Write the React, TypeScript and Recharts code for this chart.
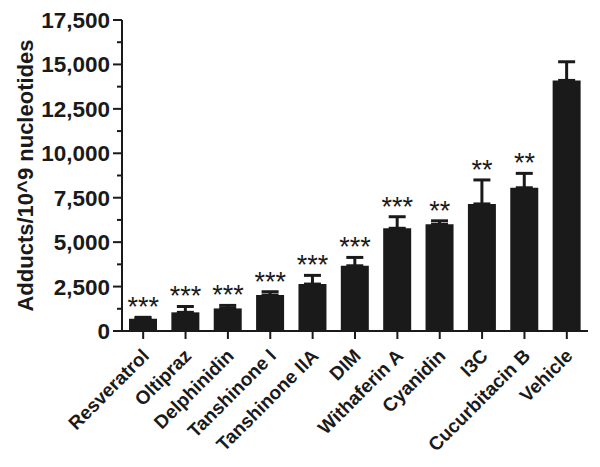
import {
  ComposedChart,
  Bar,
  Line,
  XAxis,
  YAxis,
  ErrorBar,
  LabelList,
} from 'recharts'

const compounds = [
  'Resveratrol',
  'Oltipraz',
  'Delphinidin',
  'Tanshinone I',
  'Tanshinone IIA',
  'DIM',
  'Withaferin A',
  'Cyanidin',
  'I3C',
  'Cucurbitacin B',
  'Vehicle',
]
const adducts = [690, 1050, 1270, 2020, 2640, 3670, 5780, 6000, 7150, 8060, 14100]
const sem = [80, 330, 170, 190, 490, 470, 650, 200, 1350, 810, 1050]
const significance = ['***', '***', '***', '***', '***', '***', '***', '**', '**', '**', '']

const majorTicks = [0, 2500, 5000, 7500, 10000, 12500, 15000, 17500]
const minorTicks = [1250, 3750, 6250, 8750, 11250, 13750, 16250]

const FONT = '"Liberation Sans", Arial, Helvetica, sans-serif'
const INK = '#1a1a1a'

const data = compounds.map((name, i) => ({
  name,
  value: adducts[i],
  err: [0, sem[i]],
  top: adducts[i] + sem[i],
  star: significance[i],
}))

const fmt = (v: number) => v.toLocaleString('en-US')

function YTick(props: any) {
  const { x, y, payload } = props
  const major = majorTicks.includes(payload.value)
  return (
    <g>
      <line x1={x - (major ? 9 : 5)} x2={x} y1={y} y2={y} stroke={INK} strokeWidth={2} />
      {major && (
        <text
          x={x - 12}
          y={y + 8}
          textAnchor="end"
          fontSize={22.5}
          fontWeight="bold"
          fontFamily={FONT}
          fill={INK}
        >
          {fmt(payload.value)}
        </text>
      )}
    </g>
  )
}

function XTick(props: any) {
  const { x, y, payload } = props
  const tx = x + 7
  const ty = y + 16
  return (
    <text
      x={tx}
      y={ty}
      textAnchor="end"
      fontSize={19}
      fontWeight="bold"
      fontFamily={FONT}
      fill={INK}
      transform={`rotate(-45, ${tx}, ${ty})`}
    >
      {payload.value}
    </text>
  )
}

export default function App() {
  return (
    <div style={{ position: 'absolute', left: 0, top: 0, background: '#fff' }}>
      <ComposedChart
        width={600}
        height={467}
        data={data}
        margin={{ top: 20, right: 12, bottom: 0, left: 0 }}
      >
        <XAxis
          dataKey="name"
          interval={0}
          height={136}
          axisLine={{ stroke: INK, strokeWidth: 2 }}
          tickLine={{ stroke: INK, strokeWidth: 2 }}
          tickSize={8}
          tick={<XTick />}
        />
        <YAxis
          domain={[0, 17500]}
          ticks={[...majorTicks, ...minorTicks].sort((a, b) => a - b)}
          interval={0}
          width={122}
          axisLine={{ stroke: INK, strokeWidth: 2 }}
          tickLine={false}
          tickSize={0}
          tickMargin={0}
          tick={<YTick />}
          label={{
            value: 'Adducts/10^9 nucleotides',
            angle: -90,
            position: 'insideLeft',
            offset: 25,
            fontSize: 22,
            fontWeight: 'bold',
            fontFamily: FONT,
            fill: INK,
            style: { textAnchor: 'middle' },
          }}
        />
        <Bar dataKey="value" fill={INK} barSize={28} isAnimationActive={false}>
          <ErrorBar dataKey="err" direction="y" width={8.5} strokeWidth={3} stroke={INK} />
        </Bar>
        <Line
          dataKey="top"
          stroke="none"
          dot={false}
          activeDot={false}
          isAnimationActive={false}
        >
          <LabelList
            dataKey="star"
            position="top"
            offset={1}
            fontSize={27}
            fontFamily={FONT}
            fill={INK}
          />
        </Line>
      </ComposedChart>
    </div>
  )
}
